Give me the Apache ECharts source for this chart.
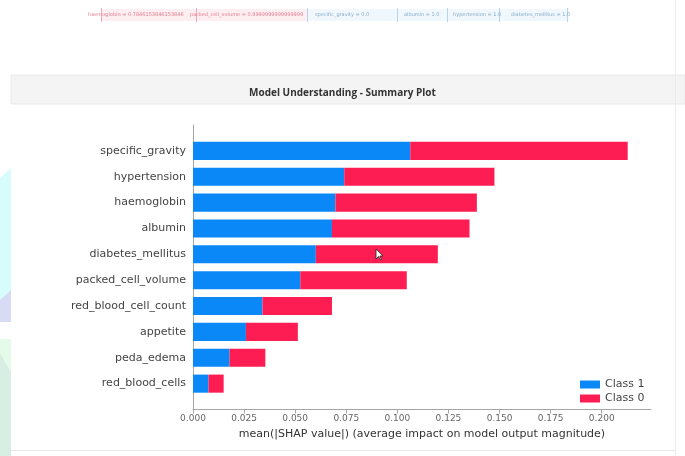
<!DOCTYPE html>
<html>
<head>
<meta charset="utf-8">
<script src="https://cdn.jsdelivr.net/npm/echarts@6/dist/echarts.min.js"></script>
<style>
  html, body { margin: 0; padding: 0; background: #fff; }
  #chart { width: 685px; height: 456px; }
</style>
</head>
<body>
<div id="chart"></div>
<script>
// features, top to bottom as shown in the plot
const features = ['specific_gravity', 'hypertension', 'haemoglobin', 'albumin', 'diabetes_mellitus',
    'packed_cell_volume', 'red_blood_cell_count', 'appetite', 'peda_edema', 'red_blood_cells'];
// mean |SHAP| per class
const class1 = [0.1063, 0.0740, 0.0697, 0.0680, 0.0601, 0.0525, 0.0340, 0.0259, 0.0179, 0.0076];
const class0 = [0.1064, 0.0735, 0.0692, 0.0673, 0.0597, 0.0521, 0.0340, 0.0254, 0.0175, 0.0074];
const xTicks = [0, 0.025, 0.05, 0.075, 0.1, 0.125, 0.15, 0.175, 0.2];

// force-plot feature strip at the top of the page
const pinkLabels = ['haemoglobin = 0.7846153846153846', 'packed_cell_volume = 0.8999999999999999'];
const blueLabels = ['specific_gravity = 0.0', 'albumin = 1.0', 'hypertension = 1.0', 'diabetes_mellitus = 1.0'];

const BLUE = '#0a88f8';
const RED = '#fd1d52';

// y axis from bottom to top, one empty slot each side (like ylim -1..n)
const cats = [''].concat(features.slice().reverse(), ['']);
const pad = arr => [null].concat(arr.slice().reverse(), [null]);

const chart = echarts.init(document.getElementById('chart'));

const stripText = (txt, x, color) => ({
    type: 'text', left: x, top: 12,
    style: { text: txt, fill: color, fontSize: 5, fontFamily: 'DejaVu Sans' }
});
const vline = (x, y1, y2, color) => ({
    type: 'line', shape: { x1: x, y1: y1, x2: x, y2: y2 },
    style: { stroke: color, lineWidth: 1 }
});

const option = {
    backgroundColor: '#ffffff',
    animation: false,
    textStyle: { fontFamily: 'DejaVu Sans' },
    title: {
        text: 'Model Understanding - Summary Plot',
        left: 'center',
        top: 83,
        textStyle: { fontFamily: 'Open Sans', fontSize: 10, fontWeight: 'bold', color: '#333' }
    },
    graphic: [
        // left decorative shapes
        { type: 'polygon', shape: { points: [[0, 178], [11, 168], [11, 322], [0, 322]] }, style: { fill: '#d6fcfc' }, z: -1 },
        { type: 'polygon', shape: { points: [[0, 300], [11, 290], [11, 322], [0, 322]] }, style: { fill: '#d7dcf4' }, z: -1 },
        { type: 'polygon', shape: { points: [[0, 339], [11, 339], [11, 372], [0, 353]] }, style: { fill: '#e5fbe9' }, z: -1 },
        { type: 'polygon', shape: { points: [[0, 353], [11, 372], [11, 456], [0, 456]] }, style: { fill: '#d6eee3' }, z: -1 },
        // header band
        { type: 'rect', shape: { x: 11, y: 75, width: 674, height: 29 }, style: { fill: '#f4f4f4', stroke: '#e9e9e9', lineWidth: 1 }, z: -1 },
        // card borders
        vline(675.5, 0, 456, '#ececec'),
        { type: 'line', shape: { x1: 11, y1: 450.5, x2: 675, y2: 450.5 }, style: { stroke: '#e8e8e8', lineWidth: 1 } },
        // force plot strip
        { type: 'rect', shape: { x: 102, y: 9, width: 205, height: 12 }, style: { fill: '#fdeef1' }, z: -1 },
        { type: 'rect', shape: { x: 307, y: 9, width: 262, height: 12 }, style: { fill: '#f0f7fd' }, z: -1 },
        vline(101.5, 8, 22, '#f2a9b8'),
        vline(196.5, 8, 22, '#f2a9b8'),
        vline(307.5, 8, 22, '#b5d5ee'),
        vline(397.5, 8, 22, '#b5d5ee'),
        vline(447.5, 8, 22, '#b5d5ee'),
        vline(499.5, 8, 22, '#b5d5ee'),
        vline(567.5, 8, 22, '#b5d5ee'),
        stripText(pinkLabels[0], 88, '#e27d8f'),
        stripText(pinkLabels[1], 190, '#e27d8f'),
        stripText(blueLabels[0], 315, '#86acc9'),
        stripText(blueLabels[1], 404, '#86acc9'),
        stripText(blueLabels[2], 453, '#86acc9'),
        stripText(blueLabels[3], 511, '#86acc9'),
        // mouse pointer
        { type: 'polygon', shape: { points: [[376, 249], [376, 259], [378.5, 256.5], [380.5, 260], [381.5, 259.5], [379.8, 256], [383, 256]] },
          style: { fill: '#ffffff', stroke: '#222', lineWidth: 0.8 }, z: 100 }
    ],
    legend: {
        data: ['Class 1', 'Class 0'],
        orient: 'vertical',
        left: 575,
        top: 374,
        icon: 'rect',
        itemWidth: 20,
        itemHeight: 8,
        itemGap: 3,
        textStyle: { fontSize: 11, color: '#444', fontFamily: 'DejaVu Sans' }
    },
    grid: { left: 193, right: 34, top: 125, bottom: 46.5, containLabel: false },
    xAxis: {
        type: 'value',
        min: 0,
        max: 0.2241,
        name: 'mean(|SHAP value|) (average impact on model output magnitude)',
        nameLocation: 'middle',
        nameGap: 18,
        nameTextStyle: { fontSize: 11, color: '#333', fontFamily: 'DejaVu Sans' },
        axisLine: { show: true, lineStyle: { color: '#a5a5a5', width: 1 } },
        axisTick: { show: true, length: 4, customValues: xTicks, lineStyle: { color: '#a5a5a5' } },
        axisLabel: {
            customValues: xTicks,
            formatter: v => v.toFixed(3),
            fontSize: 9,
            margin: 5,
            color: '#666'
        },
        splitLine: { show: false }
    },
    yAxis: {
        type: 'category',
        data: cats,
        boundaryGap: false,
        axisLine: { show: true, lineStyle: { color: '#a5a5a5', width: 1 } },
        axisTick: { show: false },
        axisLabel: { fontSize: 11, color: '#444', margin: 7 },
        splitLine: { show: false }
    },
    series: [
        {
            name: 'Class 1',
            type: 'bar',
            stack: 'total',
            barWidth: '70%',
            itemStyle: { color: BLUE },
            data: pad(class1)
        },
        {
            name: 'Class 0',
            type: 'bar',
            stack: 'total',
            barWidth: '70%',
            itemStyle: { color: RED },
            data: pad(class0)
        }
    ]
};

chart.setOption(option);
</script>
</body>
</html>
